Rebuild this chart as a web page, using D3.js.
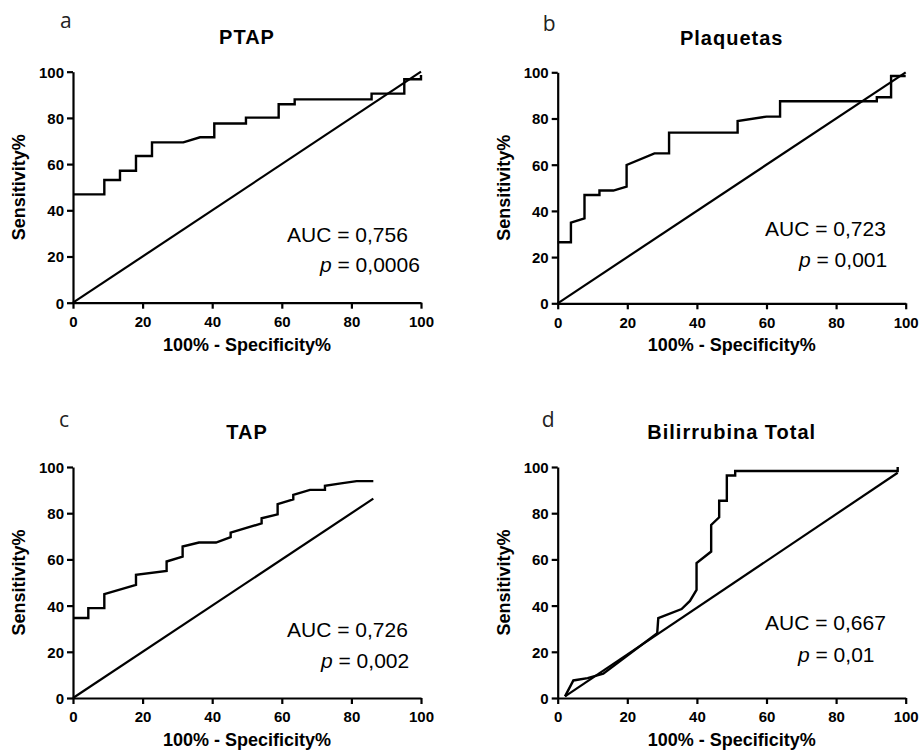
<!DOCTYPE html>
<html>
<head>
<meta charset="utf-8">
<script src="https://cdn.jsdelivr.net/npm/d3@7"></script>
<style>
  body { margin: 0; background: #fff; }
  svg { display: block; }
</style>
</head>
<body>
<div id="container"></div>
<script>
/* CONSTANTS AND GLOBALS */
const width = 919,
  height = 751,
  plotW = 348,
  plotH = 231;

const tickValues = [0, 20, 40, 60, 80, 100];
const panelLetters = ["a", "b", "c", "d"];
const panelTitles = ["PTAP", "Plaquetas", "TAP", "Bilirrubina Total"];
const aucLabels = ["AUC = 0,756", "AUC = 0,723", "AUC = 0,726", "AUC = 0,667"];
const pLabels = ["= 0,0006", "= 0,001", "= 0,002", "= 0,01"];

// ROC curves, [100% - specificity, sensitivity]
const rocPTAP = [
  [0, 46.9], [9.0, 46.9], [9.0, 53.1], [13.5, 53.1], [13.5, 57.1], [18.1, 57.1],
  [18.1, 63.5], [22.7, 63.5], [22.7, 69.4], [31.7, 69.4], [36.5, 71.6], [40.6, 71.6],
  [40.6, 77.6], [49.7, 77.6], [49.7, 80.1], [59.1, 80.1], [59.1, 85.9], [63.7, 85.9],
  [63.7, 88.0], [85.8, 88.0], [85.8, 90.5], [95.2, 90.5], [95.2, 96.7], [100, 96.7], [100, 98.6]
];
const rocPlaquetas = [
  [0, 26.4], [3.8, 26.4], [3.8, 34.9], [7.7, 36.8], [7.7, 46.9], [12.0, 46.9],
  [12.0, 48.8], [16.0, 48.8], [19.8, 50.5], [19.8, 59.9], [27.8, 64.9], [32.0, 64.9],
  [32.0, 73.9], [51.7, 73.9], [51.7, 78.9], [60.0, 80.8], [63.9, 80.8], [63.9, 87.5],
  [91.7, 87.5], [91.7, 89.2], [95.8, 89.2], [95.8, 98.4], [100, 98.4]
];
const rocTAP = [
  [0, 34.6], [4.4, 34.6], [4.4, 38.9], [9.0, 38.9], [9.0, 45.0], [18.1, 49.0],
  [18.1, 53.3], [26.9, 55.0], [26.9, 59.1], [31.5, 61.2], [31.5, 65.6], [36.2, 67.3],
  [41.1, 67.3], [45.3, 69.6], [45.3, 71.6], [54.2, 75.6], [54.2, 77.8], [58.8, 79.5],
  [58.8, 83.9], [63.3, 86.0], [63.3, 87.9], [68.1, 90.1], [72.4, 90.1], [72.4, 91.9],
  [77.0, 92.9], [81.5, 93.9], [86.3, 93.9]
];
const rocBilirrubina = [
  [2.1, 0.7], [4.5, 7.6], [8.6, 8.6], [13.1, 10.5], [28.6, 28.1], [28.9, 34.6],
  [35.6, 38.5], [38.0, 42.0], [39.9, 46.8], [39.9, 58.4], [44.1, 63.4], [44.1, 74.9],
  [46.4, 78.2], [46.4, 85.4], [48.6, 85.4], [48.6, 96.3], [51.0, 96.3], [51.0, 98.3],
  [97.7, 98.3], [97.7, 100]
];
const curves = [rocPTAP, rocPlaquetas, rocTAP, rocBilirrubina];

// reference (chance) lines
const diagonals = [
  [[0, 0], [100, 100]],
  [[0, 0], [100, 100]],
  [[0, 0], [86.3, 86.3]],
  [[2.1, 0.7], [97.7, 97.5]]
];

// where each plot area sits, and where its annotations go (relative to plot)
const layout = [
  { left: 73, top: 71.7, letter: [-13, -44], title: -27.5, auc: [214, 170], p: [247, 200.5] },
  { left: 557.7, top: 72.3, letter: [-15, -41], title: -27.5, auc: [207.3, 163.7], p: [241.3, 194.4] },
  { left: 73, top: 467, letter: [-14, -40], title: -28, auc: [214, 169.7], p: [248, 201.3] },
  { left: 557.7, top: 467, letter: [-16, -40], title: -28, auc: [207.3, 163], p: [240.3, 194.7] }
];

const svg = d3.select("#container")
  .append("svg")
  .attr("width", width)
  .attr("height", height)
  .style("background", "#fff");

const xScale = d3.scaleLinear().domain([0, 100]).range([0, plotW]);
const yScale = d3.scaleLinear().domain([0, 100]).range([plotH, 0]);

const lineGen = d3.line()
  .x(d => xScale(d[0]))
  .y(d => yScale(d[1]));

layout.forEach((L, i) => {
  const g = svg.append("g").attr("transform", `translate(${L.left}, ${L.top})`);

  // panel letter
  g.append("text")
    .attr("x", L.letter[0])
    .attr("y", L.letter[1])
    .attr("font-family", "'Open Sans', sans-serif")
    .attr("font-size", 21)
    .attr("fill", "#222")
    .text(panelLetters[i]);

  // title
  g.append("text")
    .attr("x", plotW / 2)
    .attr("y", L.title)
    .attr("text-anchor", "middle")
    .attr("font-family", "'Liberation Sans', Arial, sans-serif")
    .attr("font-weight", "bold")
    .attr("font-size", 20)
    .attr("letter-spacing", 1)
    .text(panelTitles[i]);

  // axes
  const xAxis = d3.axisBottom(xScale).tickValues(tickValues).tickSize(6).tickSizeOuter(0).tickPadding(4);
  const yAxis = d3.axisLeft(yScale).tickValues(tickValues).tickSize(6).tickSizeOuter(0).tickPadding(3);

  const xg = g.append("g").attr("transform", `translate(0, ${plotH})`).call(xAxis);
  const yg = g.append("g").call(yAxis);
  [xg, yg].forEach(a => {
    a.attr("font-family", "'Liberation Sans', Arial, sans-serif")
      .attr("font-size", 15)
      .attr("font-weight", "bold");
    a.selectAll("path, line").attr("stroke", "#000").attr("stroke-width", 2.2);
    a.selectAll("text").attr("fill", "#000");
  });
  xg.selectAll("text").attr("dy", "0.95em");
  yg.selectAll("text").attr("dy", "0.36em");

  // axis labels
  g.append("text")
    .attr("transform", `translate(-54, ${plotH / 2}) rotate(-90)`)
    .attr("text-anchor", "middle")
    .attr("dy", "0.35em")
    .attr("font-family", "'Liberation Sans', Arial, sans-serif")
    .attr("font-weight", "bold")
    .attr("font-size", 18)
    .text("Sensitivity%");

  g.append("text")
    .attr("x", plotW / 2)
    .attr("y", plotH + 48)
    .attr("text-anchor", "middle")
    .attr("font-family", "'Liberation Sans', Arial, sans-serif")
    .attr("font-weight", "bold")
    .attr("font-size", 18)
    .text("100% - Specificity%");

  // chance line
  g.append("path")
    .datum(diagonals[i])
    .attr("d", lineGen)
    .attr("fill", "none")
    .attr("stroke", "#000")
    .attr("stroke-width", 2.2);

  // ROC curve
  g.append("path")
    .datum(curves[i])
    .attr("d", lineGen)
    .attr("fill", "none")
    .attr("stroke", "#000")
    .attr("stroke-width", 2.4)
    .attr("stroke-linejoin", "miter");

  // AUC and p annotation
  g.append("text")
    .attr("x", L.auc[0])
    .attr("y", L.auc[1])
    .attr("font-family", "'Liberation Sans', Arial, sans-serif")
    .attr("font-size", 21)
    .text(aucLabels[i]);

  const pt = g.append("text")
    .attr("x", L.p[0])
    .attr("y", L.p[1])
    .attr("font-family", "'Liberation Sans', Arial, sans-serif")
    .attr("font-size", 21);
  pt.append("tspan").attr("font-style", "italic").text("p");
  pt.append("tspan").text(" " + pLabels[i]);
});
</script>
</body>
</html>
